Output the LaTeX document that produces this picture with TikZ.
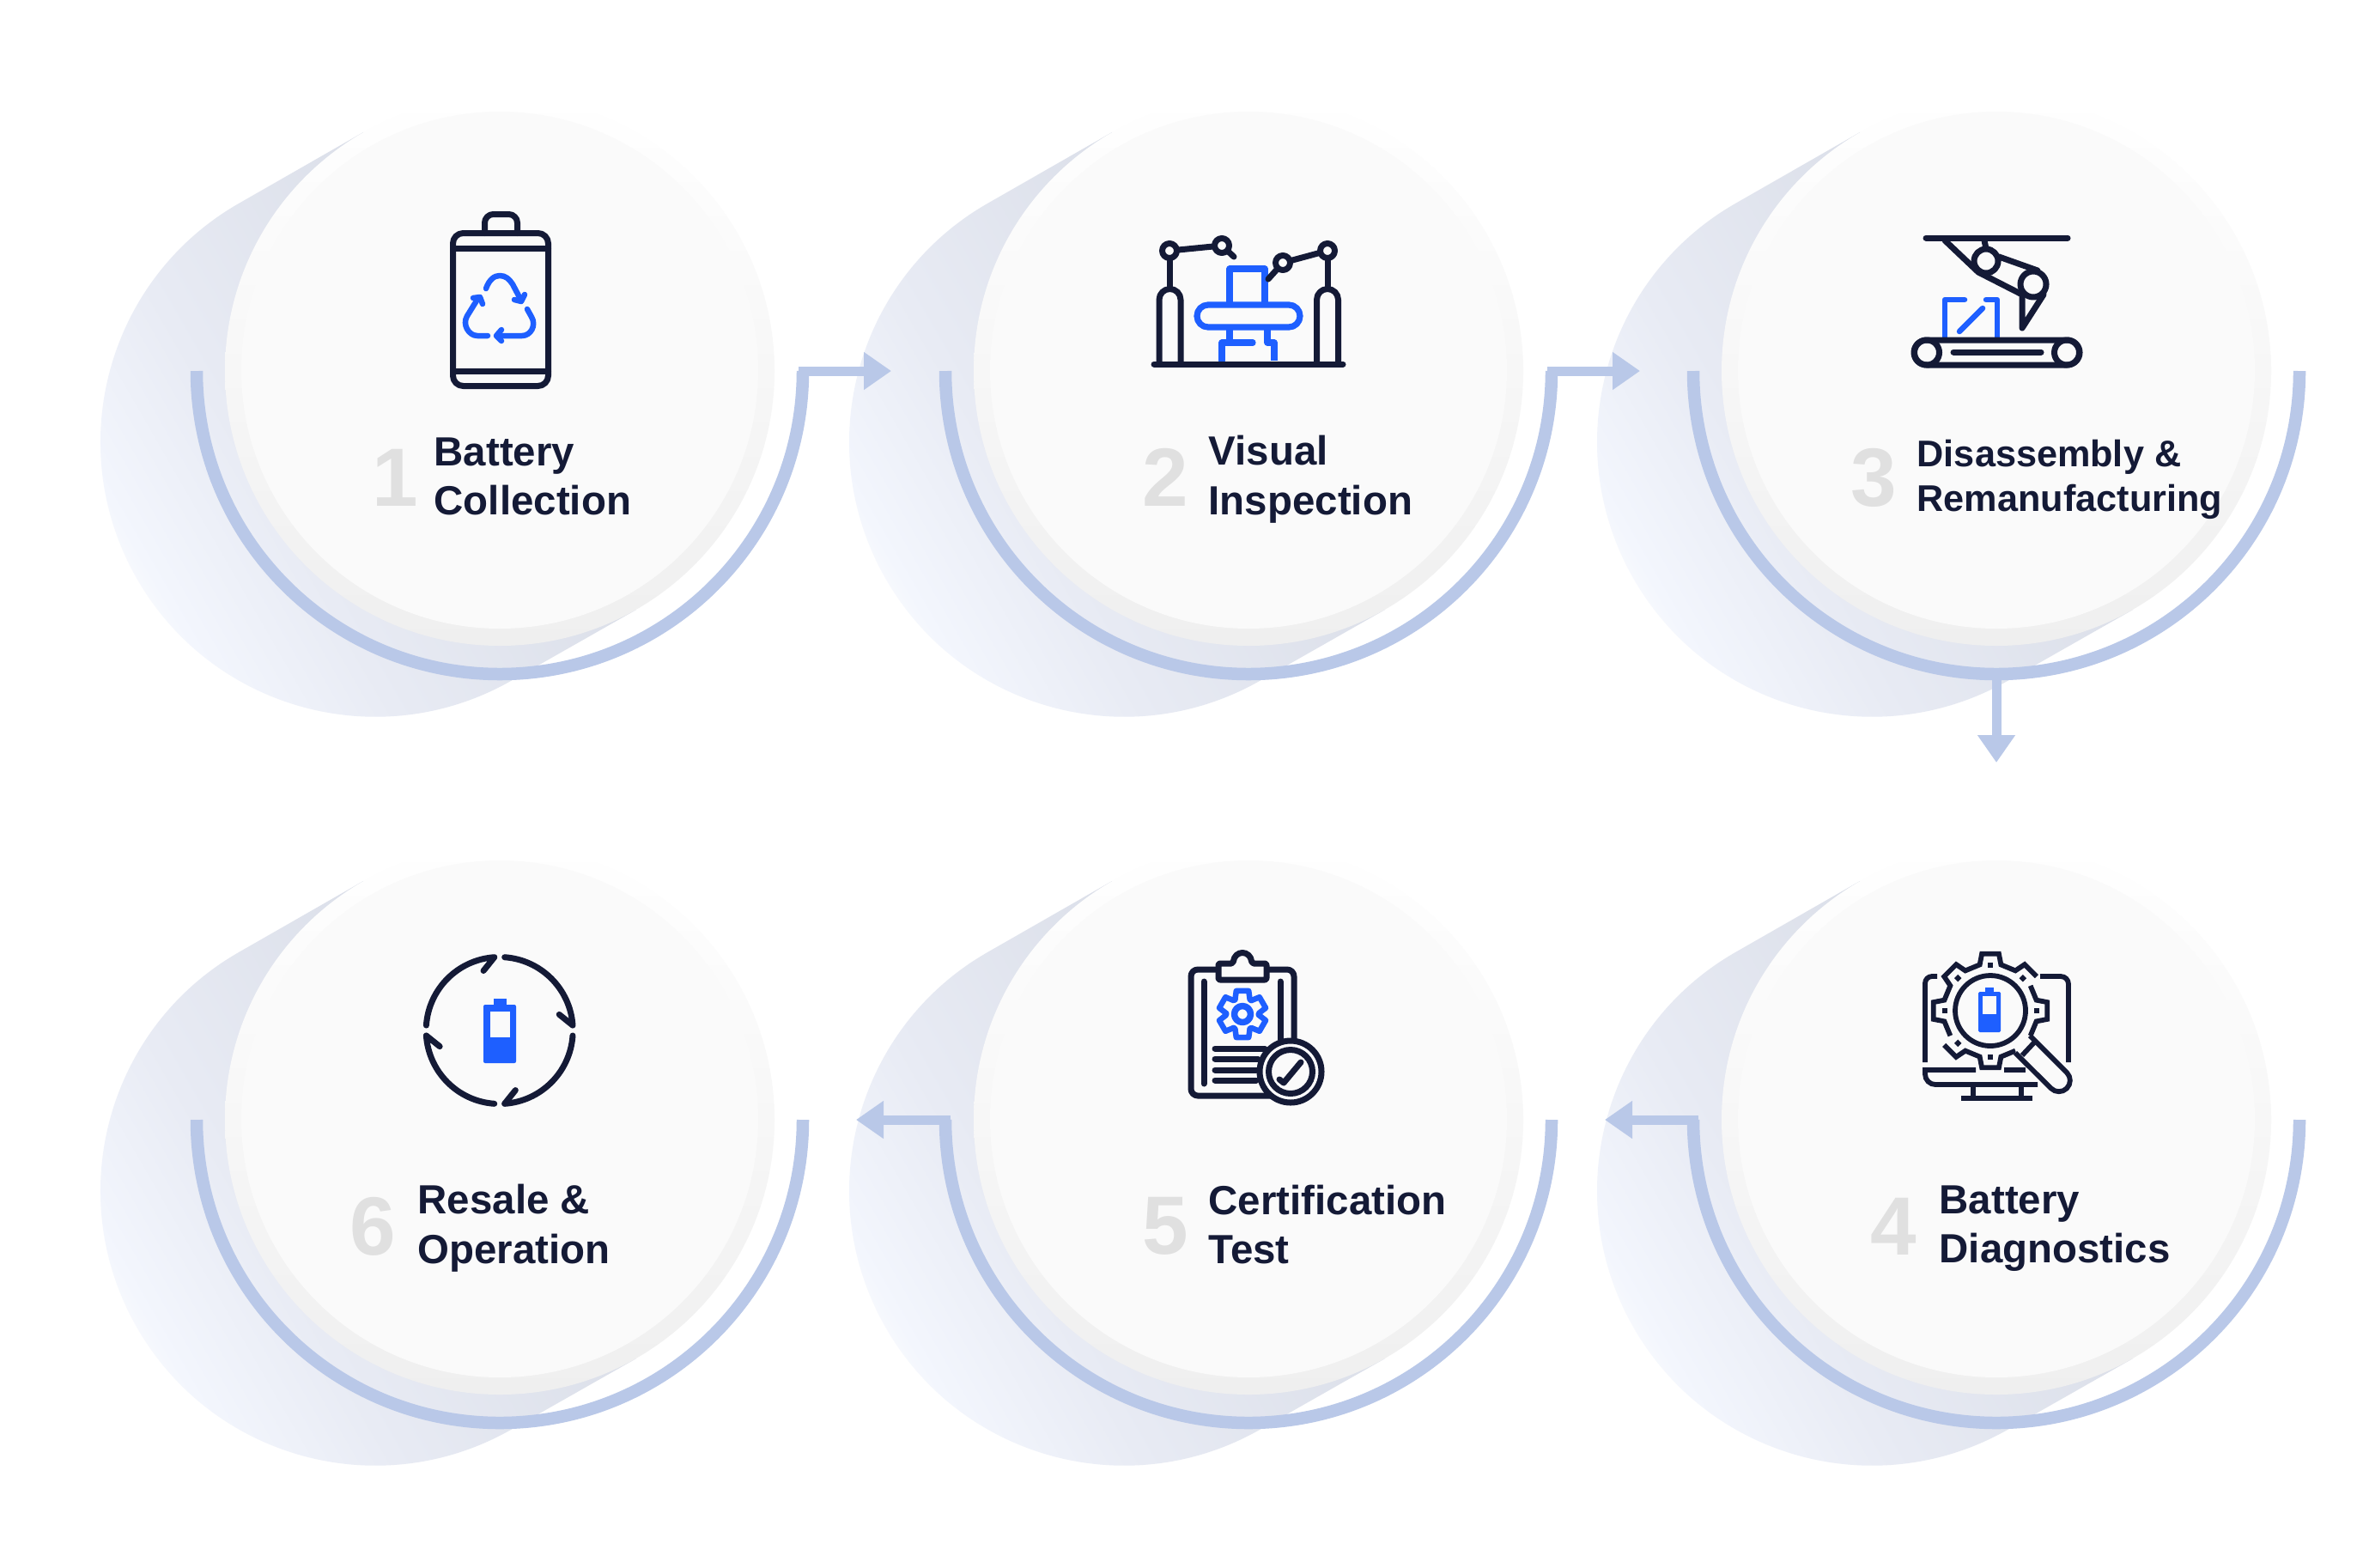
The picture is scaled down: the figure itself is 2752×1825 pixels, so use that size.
\documentclass[tikz,border=0pt]{standalone}
\usepackage{fontspec}
\setmainfont{Liberation Sans}
\usetikzlibrary{arrows.meta}
\definecolor{navy}{HTML}{141A36}
\definecolor{bluemark}{HTML}{1E5FFF}
\definecolor{ringblue}{HTML}{B9C8E8}
\definecolor{discface}{HTML}{FAFAFA}
\definecolor{discedge}{HTML}{EFEFEF}
\definecolor{numgrey}{HTML}{E0E0E0}
\definecolor{castdark}{HTML}{DBDFE9}
\definecolor{castmid}{HTML}{E8EBF4}
\definecolor{castpale}{HTML}{F3F6FD}
\pgfdeclarehorizontalshading{castshade}{100bp}{color(0bp)=(castdark); color(36bp)=(castdark); color(58bp)=(castmid); color(70bp)=(castpale); color(75bp)=(white); color(100bp)=(white)}
\tikzset{
  discbase/.style={circle,inner sep=0pt,minimum size=64mm,top color=white,bottom color=discedge},
  discinner/.style={circle,inner sep=0pt,minimum size=60.2mm,fill=discface},
  ring/.style={draw=ringblue,line width=1.45mm},
  flow/.style={draw=ringblue,line width=1.1mm,line cap=rect,-{Triangle[length=3.2mm,width=4.2mm]}},
  ink/.style={draw=navy,line width=0.7mm,line cap=round,line join=round},
  accent/.style={draw=bluemark,line width=0.65mm,line cap=round,line join=round},
  thinink/.style={draw=navy,line width=0.58mm,line join=miter},
  stepnum/.style={font=\fontsize{27.4}{30}\selectfont\bfseries,text=numgrey,inner sep=0pt},
  steplabel/.style={font=\fontsize{13.5}{16.4}\selectfont\bfseries,text=navy,align=left,inner sep=0pt,anchor=west},
  steplabelsmall/.style={steplabel,font=\fontsize{12.3}{15}\selectfont\bfseries}
}
\begin{document}
\begin{tikzpicture}[x=0.1mm,y=-0.1mm]
  \fill[white] (0,0) rectangle (2752,1825);
  \foreach \n/\x/\y in {1/582/432,2/1454/432,3/2325/432,4/2325/1304,5/1454/1304,6/582/1304} {
    \shade[shading=castshade,shading angle=210] (\x-159,\y-278) -- (\x-304,\y-195)
      arc[start angle=240.2,end angle=60.2,radius=320] -- (\x+159,\y+278) -- cycle;
    \node[discbase] (disc\n) at (\x,\y) {};
    \node[discinner] (face\n) at (\x,\y-1) {};
    \coordinate (ringl\n) at (\x-353,\y);
    \coordinate (ringr\n) at (\x+353,\y);
    \coordinate (ringb\n) at (\x,\y+353);
    \draw[ring] (ringl\n) arc[start angle=180,end angle=0,radius=353];
  }
  \coordinate (tip12) at (1038,432);
  \coordinate (tip23) at (1910,432);
  \coordinate (tip34) at (2325,888);
  \coordinate (tip45) at (1869,1304);
  \coordinate (tip56) at (997,1304);
  \draw[flow] (ringr1) -- (tip12);
  \draw[flow] (ringr2) -- (tip23);
  \draw[flow] (ringb3) -- (tip34);
  \draw[flow] (ringl4) -- (tip45);
  \draw[flow] (ringl5) -- (tip56);

  \node[stepnum] (num1) at (460,556) {1};
  \node[stepnum] (num2) at (1357,556) {2};
  \node[stepnum] (num3) at (2182,556) {3};
  \node[stepnum] (num4) at (2205,1428) {4};
  \node[stepnum] (num5) at (1357,1428) {5};
  \node[stepnum] (num6) at (434,1428) {6};
  \node[steplabel] (label1) at (505,555) {Battery\\Collection};
  \node[steplabel] (label2) at (1407,558) {Visual\\Inspection};
  \node[steplabelsmall] (label3) at (2232,558.5) {Disassembly \&\\Remanufacturing};
  \node[steplabel] (label4) at (2258,1430.5) {Battery\\Diagnostics};
  \node[steplabel] (label5) at (1407,1426) {Certification\\Test};
  \node[steplabel] (label6) at (486,1430.5) {Resale \&\\Operation};

  % battery
  \draw[ink,rounded corners=1.2mm] (527.5,271.5) rectangle (638.5,449.5);
  \draw[ink,rounded corners=1mm] (564.5,271.5) -- (564.5,249.5) -- (602.5,249.5) -- (602.5,271.5);
  \draw[ink] (527.5,289) -- (638.5,289);
  \draw[ink] (527.5,432) -- (638.5,432);
  \draw[accent] (566,336) .. controls (570,325) and (576,321) .. (582,321) .. controls (589,321) and (593,325) .. (597,331) -- (607,350);
  \draw[accent] (599,349) -- (607,351) -- (611,343);
  \draw[accent] (568,391) -- (556,391) .. controls (546,391) and (538,378) .. (544,368) -- (557,347);
  \draw[accent] (551,347) -- (559,346) -- (562,354);
  \draw[accent] (614,360) -- (619,369) .. controls (625,379) and (618,391) .. (608,391) -- (579,391);
  \draw[accent] (584,384) -- (578,391) -- (584,397);

  % robot arms
  \draw[accent,line width=0.72mm,line cap=butt] (1432,354) -- (1432,313) -- (1473,313) -- (1473,354);
  \draw[accent,line width=0.72mm,rounded corners=1.3mm] (1394,355) rectangle (1514,381);
  \draw[accent,line width=0.72mm,line cap=butt] (1432,381) -- (1432,399);
  \draw[accent,line width=0.72mm] (1423,420) -- (1423,399) -- (1459,399);
  \draw[accent,line width=0.72mm,line cap=butt] (1476,381) -- (1476,399) -- (1484,399) -- (1484,420);
  \draw[ink] (1344,424) -- (1564,424);
  \foreach \x in {1362.5,1546} {
    \draw[ink] (\x-12.5,424) -- (\x-12.5,349) arc[start angle=180,end angle=360,radius=12.5] -- (\x+12.5,424);
    \draw[ink] (\x,292) -- (\x,336);
  }
  \draw[ink] (1362,292) -- (1423,286) -- (1437,299);
  \draw[ink] (1546,292) -- (1494,306) -- (1477,325);
  \foreach \x/\y in {1362/292,1423/286,1546/292,1494/306}
    \draw[ink,fill=discface] (\x,\y) circle (8.5);

  % conveyor and arm
  \draw[accent] (2288,349) -- (2265,349) -- (2265,393);
  \draw[accent] (2313,349) -- (2326,349) -- (2326,393);
  \draw[accent] (2282,386) -- (2309,359);
  \draw[ink] (2243,277) -- (2408,277);
  \draw[ink] (2311,280) -- (2313,290);
  \draw[ink] (2265,280) -- (2304,317) -- (2353,342);
  \draw[ink] (2328,299) -- (2373,315);
  \draw[ink] (2355,345) -- (2355,382) -- (2380,343);
  \draw[ink,fill=discface] (2313,304) circle (14);
  \draw[ink,fill=discface] (2368,331) circle (15);
  \draw[ink,rounded corners=1.45mm] (2229,396) rectangle (2422,425);
  \draw[ink] (2244,410.5) circle (14.5);
  \draw[ink] (2407,410.5) circle (14.5);
  \draw[ink] (2275,410) -- (2377,410);

  % diagnostics gear
  \begin{scope}[shift={(2318,1177)}]
    \draw[thinink] (-32:55) -- (-13:55) -- (-8.5:67) -- (8.5:67) -- (13:55) -- (32:55);
    \draw[thinink] (58:55) -- (77:55) -- (81.5:67) -- (98.5:67) -- (103:55) -- (122:55) -- (126.5:67) -- (143.5:67);
    \draw[thinink] (148:55) foreach \a in {180,225,270} {
      -- (\a-13:55) -- (\a-8.5:67) -- (\a+8.5:67) -- (\a+13:55)
    } -- (302:55) -- (306.5:67) -- (323.5:67);
    \foreach \a in {0,-45,-90,-135,-180,135,90}
      \fill[navy,rotate=-\a] (50.5,-3) rectangle (56.5,3);
    \draw[thinink,fill=discface] (0,0) circle (41);
  \end{scope}
  \draw[thinink,rounded corners=0.8mm] (2256,1137) -- (2242,1137) -- (2242,1237);
  \draw[thinink,rounded corners=0.9mm] (2376,1137) -- (2409,1137) -- (2409,1237);
  \draw[thinink] (2301,1246) -- (2242,1246) -- (2242,1251) arc[start angle=180,end angle=90,radius=12] -- (2373,1263);
  \draw[thinink] (2334,1246) -- (2359,1246);
  \draw[thinink] (2298,1263) -- (2298,1279);
  \draw[thinink] (2354,1263) -- (2354,1279);
  \draw[thinink] (2284,1279) -- (2367,1279);
  \draw[thinink,fill=discface] (2364,1206) -- (2407,1249) arc[start angle=-45,end angle=135,radius=13] -- (2347,1226);
  \draw[thinink] (2355,1229) -- (2370,1213);
  \fill[bluemark,rounded corners=0.15mm] (2304,1155) rectangle (2330,1202);
  \fill[bluemark] (2312,1150) rectangle (2322,1156);
  \fill[discface] (2309,1160) rectangle (2325,1181);

  % clipboard
  \draw[ink,rounded corners=0.8mm] (1419,1129) -- (1387,1129) -- (1387,1276) -- (1480,1276);
  \draw[ink,rounded corners=0.8mm] (1475,1129) -- (1507,1129) -- (1507,1212);
  \draw[ink,fill=discface,rounded corners=0.2mm] (1419,1122) -- (1436,1122) .. controls (1438,1106) and (1456,1106) .. (1458,1122) -- (1475,1122) -- (1475,1141) -- (1419,1141) -- cycle;
  \draw[ink] (1402,1143) -- (1402,1262);
  \draw[ink] (1491,1143) -- (1491,1210);
  \foreach \y/\w in {1221/1473,1233/1465,1246/1463,1258/1463}
    \draw[ink] (1415,\y) -- (\w,\y);
  \begin{scope}[shift={(1447,1181)}]
    \foreach \a in {-90,-30,...,210}
      \draw[accent] (\a-27:19) -- (\a-15:28) -- (\a+15:28) -- (\a+27:19) -- (\a+33:19);
    \draw[accent,line width=0.75mm] (0,0) circle (9.5);
  \end{scope}
  \draw[ink,fill=discface] (1503,1248) circle (36);
  \draw[ink] (1503,1248) circle (25.5);
  \draw[ink] (1490,1257) -- (1495,1261) -- (1515,1237);

  % loop battery
  \begin{scope}[shift={(581.7,1200)}]
    \foreach \a in {0,90,180,270}
      \draw[ink] (\a+4:85.5) arc[start angle=\a+4,end angle=\a+86,radius=85.5] -- ({\a+75}:72);
  \end{scope}
  \fill[bluemark,rounded corners=0.2mm] (563,1170) rectangle (601,1238);
  \fill[bluemark] (575,1163) rectangle (590,1171);
  \fill[discface] (571,1178) rectangle (594,1208);
\end{tikzpicture}
\end{document}
